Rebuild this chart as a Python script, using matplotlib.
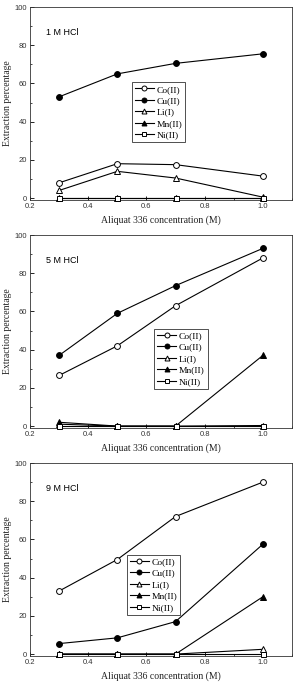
import matplotlib
matplotlib.use("Agg")
import matplotlib.pyplot as plt
from matplotlib.ticker import MultipleLocator

conc = [0.3, 0.5, 0.7, 1.0]
panel_titles = ["1 M HCl", "5 M HCl", "9 M HCl"]
metals = ["Co(II)", "Cu(II)", "Li(I)", "Mn(II)", "Ni(II)"]

co = [[8, 18, 17.5, 11.5], [26.5, 42, 63, 88], [33, 49.5, 72, 90]]
cu = [[53, 65, 70.5, 75.5], [37, 59, 73.5, 93], [5.5, 8.5, 17, 57.5]]
li = [[4, 14, 10.5, 0.5], [1, 0, 0, 0.3], [0, 0, 0, 2.5]]
mn = [[0, 0, 0, 0], [2, 0, 0, 37], [0, 0, 0, 30]]
ni = [[0, 0, 0, 0], [0, 0, 0, 0], [0, 0, 0, 0]]

styles = [("o", "white"), ("o", "black"), ("^", "white"), ("^", "black"), ("s", "white")]
legend_anchor = [(0.39, 0.61), (0.475, 0.515), (0.37, 0.525)]

serif = ["Liberation Serif", "DejaVu Serif"]
sans = ["Liberation Sans", "DejaVu Sans"]

W, H = 295, 689
fig = plt.figure(figsize=(W / 100, H / 100), dpi=100)
bottoms = [200, 428, 656]

for i in range(3):
    ax = fig.add_axes([30 / W, 1 - bottoms[i] / H, 262 / W, 193 / H])
    series = [co[i], cu[i], li[i], mn[i], ni[i]]
    for name, vals, (mk, fc) in zip(metals, series, styles):
        ax.plot(conc, vals, color="black", lw=0.8, marker=mk, ms=4.2 if mk != "s" else 3.6,
                mfc=fc, mec="black", mew=0.7, label=name, clip_on=False, zorder=3)
    ax.set_xlim(0.2, 1.1)
    ax.set_ylim(-1, 100)
    ax.xaxis.set_major_locator(MultipleLocator(0.2))
    ax.xaxis.set_minor_locator(MultipleLocator(0.1))
    ax.yaxis.set_major_locator(MultipleLocator(20))
    ax.yaxis.set_minor_locator(MultipleLocator(10))
    ax.tick_params(which="both", direction="in", labelsize=5.5, pad=2, labelcolor="#333333")
    ax.tick_params(which="major", length=3, width=0.6)
    ax.tick_params(which="minor", length=1.5, width=0.5)
    ax.set_xticks([0.2, 0.4, 0.6, 0.8, 1.0])
    ax.set_xticklabels(["0.2", "0.4", "0.6", "0.8", "1.0"], family=sans)
    ax.set_yticks([0, 20, 40, 60, 80, 100])
    ax.set_yticklabels(["0", "20", "40", "60", "80", "100"], family=sans)
    for sp in ax.spines.values():
        sp.set_linewidth(0.6)
        sp.set_color("#333333")
    ax.set_xlabel("Aliquat 336 concentration (M)", family=serif, fontsize=7, labelpad=4,
                  color="#222222")
    ax.set_ylabel("Extraction percentage", family=serif, fontsize=7, labelpad=2,
                  color="#222222")
    ax.text(0.06, 0.87, panel_titles[i], transform=ax.transAxes, family=sans,
            fontsize=6.5, ha="left", va="center")
    leg = ax.legend(loc="upper left", bbox_to_anchor=legend_anchor[i],
                    prop={"family": serif, "size": 6.8}, frameon=True, fancybox=False,
                    handlelength=2.0, handletextpad=0.3, borderpad=0.3,
                    labelspacing=0.3, borderaxespad=0, markerscale=0.85)
    leg.get_frame().set_edgecolor("black")
    leg.get_frame().set_linewidth(0.6)

fig.savefig("out.png", dpi=100)
